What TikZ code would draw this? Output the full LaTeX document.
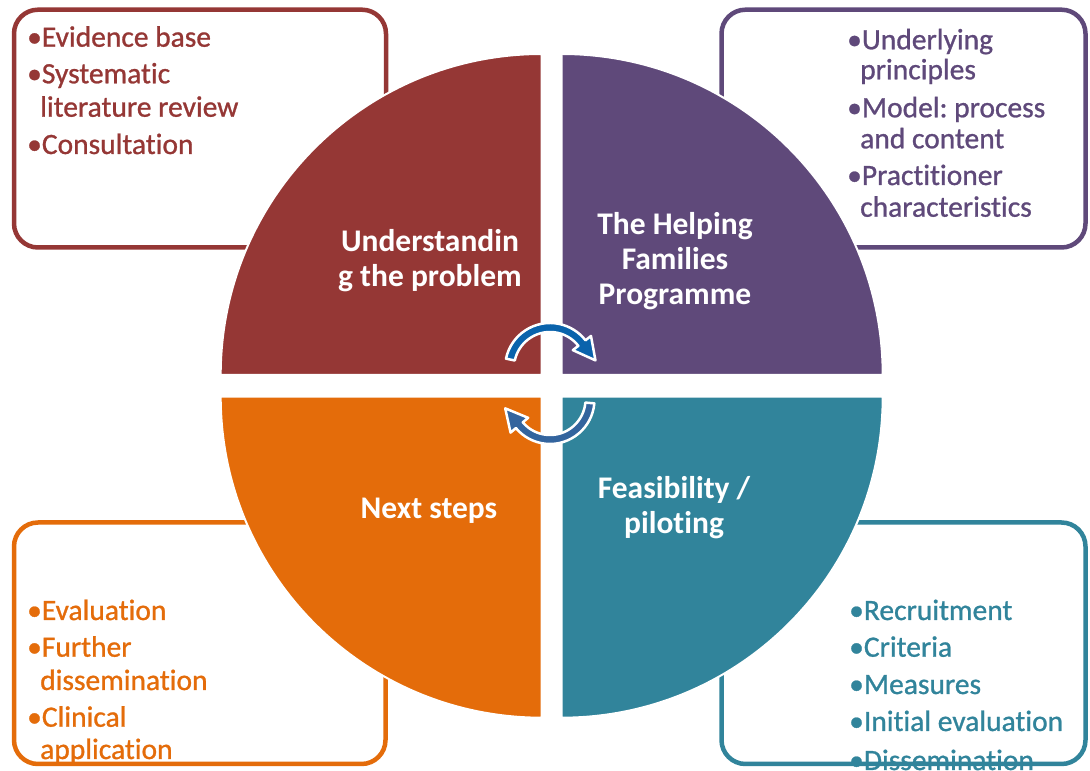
\documentclass[tikz,border=0pt]{standalone}
\usepackage{fontspec}
\setmainfont{Carlito}[Ligatures={NoCommon,NoRequired,NoContextual}]
\newfontfamily\boxfont{Carlito}[Ligatures={NoCommon,NoRequired,NoContextual},FakeBold=0.9]
\usetikzlibrary{calc}
\definecolor{cred}{HTML}{953735}
\definecolor{cpur}{HTML}{5F497A}
\definecolor{corg}{HTML}{E46C0A}
\definecolor{cteal}{HTML}{31849B}
\definecolor{ablueA}{HTML}{0A63AC}
\definecolor{ablueB}{HTML}{33649E}
\frenchspacing
\begin{document}
\begin{tikzpicture}[x=1pt,y=1pt,
  box/.style={line width=4.5pt, rounded corners=24pt, fill=white},
  quad/.style={draw=white, line width=2pt},
  item/.style={anchor=base west, inner sep=0pt, font=\boxfont\fontsize{29.5}{33}\selectfont},
  lab/.style={anchor=base, inner sep=0pt, white, font=\bfseries\fontsize{31.5}{35}\selectfont},
  cyc/.style={draw=white, line width=2.5pt, line join=round}]
\useasboundingbox (0,0) rectangle (1090,771);
\clip (0,0) rectangle (1090,771);
\fill[white] (0,0) rectangle (1090,771);

% boxes
\draw[box, draw=cred] (14,523.5) rectangle (386,761.3);
\draw[box, draw=cpur] (721.5,523.5) rectangle (1085.5,761.3);
\draw[box, draw=corg] (14,7) rectangle (385.5,248.5);
\draw[box, draw=cteal] (721.5,7) rectangle (1085.5,248.5);

% box texts
\begin{scope}[cred]
\node[item] (a1) at (27,724.3) {\textbullet Evidence base};
\node[item] (a2) at (27,687.7) {\textbullet Systematic};
\node[item] (a3) at (40,654.3) {literature review};
\node[item] (a4) at (27,617) {\textbullet Consultation};
\end{scope}
\begin{scope}[cpur]
\node[item] (b1) at (847,721.7) {\textbullet Underlying};
\node[item] (b2) at (860,691.7) {principles};
\node[item] (b3) at (847,653.7) {\textbullet Model: process};
\node[item] (b4) at (860,622.7) {and content};
\node[item] (b5) at (847,586) {\textbullet Practitioner};
\node[item] (b6) at (860,554.3) {characteristics};
\end{scope}
\begin{scope}[corg]
\node[item] (c1) at (27,151) {\textbullet Evaluation};
\node[item] (c2) at (27,114.3) {\textbullet Further};
\node[item] (c3) at (40,81) {dissemination};
\node[item] (c4) at (27,44.3) {\textbullet Clinical};
\node[item] (c5) at (40,12) {application};
\end{scope}
\begin{scope}[cteal]
\node[item] (d1) at (849,151) {\textbullet Recruitment};
\node[item] (d2) at (849,114.3) {\textbullet Criteria};
\node[item] (d3) at (849,77) {\textbullet Measures};
\node[item] (d4) at (849,40) {\textbullet Initial evaluation};
\node[item] (d5) at (849,1) {\textbullet Dissemination};
\end{scope}

% quadrants
\filldraw[quad, fill=cred] (541.7,396) -- ++(-321,0) arc[start angle=180, end angle=90, radius=321] -- cycle;
\filldraw[quad, fill=cpur] (561.7,396) -- ++(0,321) arc[start angle=90, end angle=0, radius=321] -- cycle;
\filldraw[quad, fill=corg] (541.7,374.3) -- ++(0,-321) arc[start angle=270, end angle=180, radius=321] -- cycle;
\filldraw[quad, fill=cteal] (561.7,374.3) -- ++(321,0) arc[start angle=0, end angle=-90, radius=321] -- cycle;

% labels
\node[lab] (l1) at (430,519.3) {Understandin};
\node[lab] (l2) at (430,484.3) {g the problem};
\node[lab] (m1) at (675,536) {The Helping};
\node[lab] (m2) at (675,501) {Families};
\node[lab] (m3) at (675,466) {Programme};
\node[lab] (n1) at (429,252.7) {Next steps};
\node[lab] (p1) at (674,272.7) {Feasibility /};
\node[lab] (p2) at (674,237.7) {piloting};

% cycle arrows
\coordinate (k1) at (550,403);
\coordinate (k2) at (550,371.5);
\path[cyc, fill=ablueA] ($(k1)+(168:45)$) arc[start angle=168, end angle=38, radius=45]
  -- ($(k1)+(38:52)$) -- ($(k1)+(38:40.5)+(-52:22)$) -- ($(k1)+(38:29)$)
  -- ($(k1)+(38:36)$) arc[start angle=38, end angle=168, radius=36] -- cycle;
\path[cyc, fill=ablueB] ($(k2)+(-5:44.5)$) arc[start angle=-5, end angle=-140, radius=44.5]
  -- ($(k2)+(-140:51.5)$) -- ($(k2)+(-140:40)+(130:22)$) -- ($(k2)+(-140:28.5)$)
  -- ($(k2)+(-140:35.5)$) arc[start angle=-140, end angle=-5, radius=35.5] -- cycle;
\end{tikzpicture}
\end{document}
